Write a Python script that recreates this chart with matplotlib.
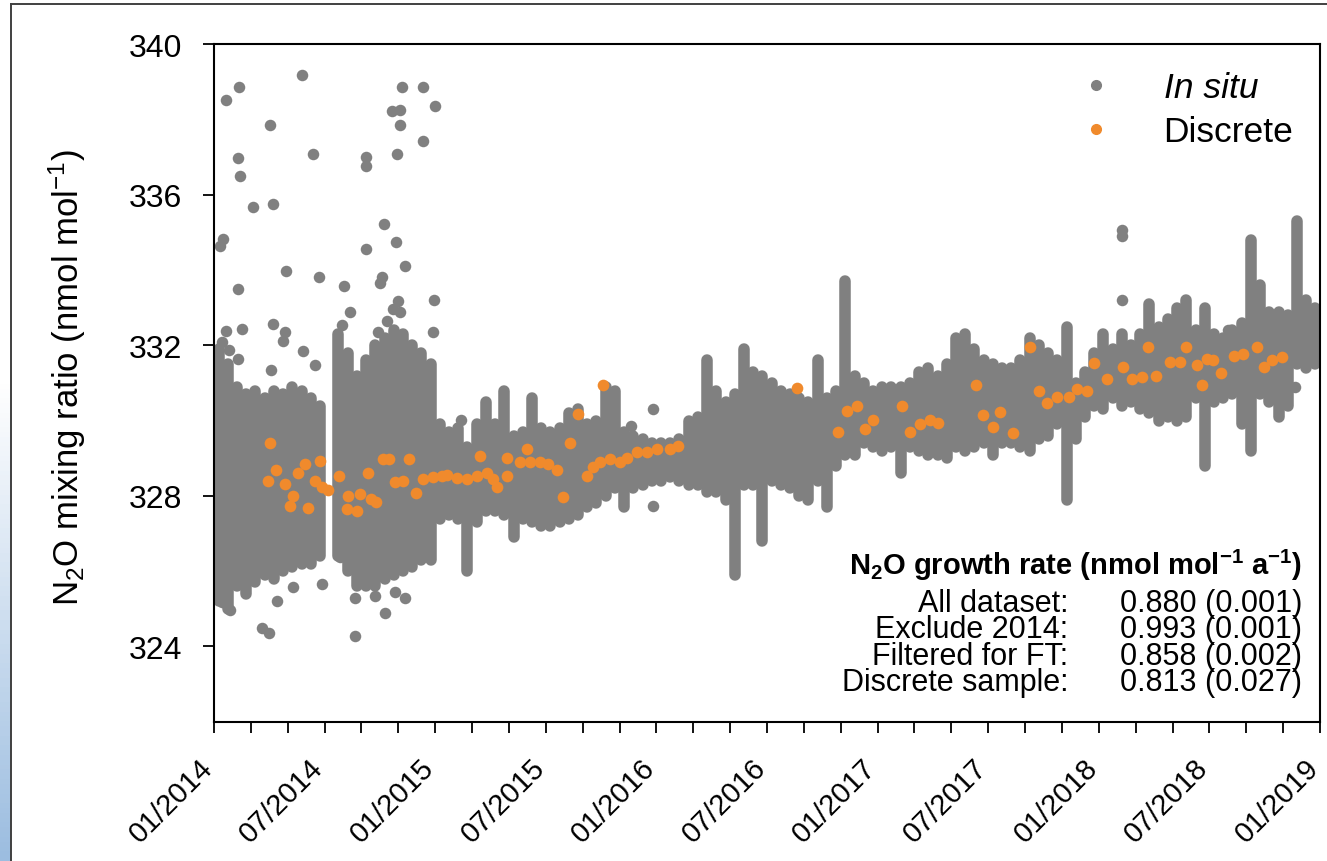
import numpy as np
import matplotlib
matplotlib.use("Agg")
import matplotlib.pyplot as plt
from matplotlib.lines import Line2D
from matplotlib.colors import LinearSegmentedColormap

plt.rcParams["font.family"] = ["Liberation Sans", "DejaVu Sans"]
plt.rcParams["mathtext.fontset"] = "custom"
plt.rcParams["mathtext.rm"] = "Liberation Sans"
plt.rcParams["mathtext.it"] = "Liberation Sans:italic"
plt.rcParams["mathtext.bf"] = "Liberation Sans:bold"

GRAY = "#808080"
ORANGE = "#f08a2c"

# in situ record, summarised as min/max per half-month bin starting 01/2014
BIN_START = 2014.0
BIN_WIDTH = 1 / 24
insitu_lo = [
    325.2, 325.0, 325.6, 325.4, 325.7, 325.9, 325.8, 326.0, 326.1, 326.2, 326.2, 326.4,
    np.nan, 326.4, 326.0, 325.6, 325.6, 325.6, 325.8, 325.9, 326.0, 326.1, 326.3, 326.3,
    327.4, 327.5, 327.4, 326.0, 327.3, 327.6, 327.6, 327.5, 326.9, 327.4, 327.3, 327.2,
    327.2, 327.3, 327.4, 327.5, 327.7, 327.8, 328.0, 328.2, 327.7, 328.2, 328.3, 328.4,
    328.4, 328.5, 328.4, 328.3, 328.3, 328.1, 328.1, 327.9, 325.9, 328.3, 328.3, 326.8,
    328.4, 328.3, 328.2, 328.0, 327.9, 328.4, 327.7, 328.8, 329.1, 329.1, 329.4, 329.3,
    329.2, 329.3, 328.6, 329.3, 329.2, 329.1, 329.1, 329.0, 329.3, 329.2, 329.3, 329.4,
    329.1, 329.4, 329.4, 329.3, 329.2, 329.5, 329.6, 329.9, 327.9, 329.5, 330.1, 330.4,
    330.3, 330.6, 330.4, 330.5, 330.3, 330.2, 330.0, 330.1, 330.0, 330.1, 330.6, 328.8,
    330.5, 330.6, 330.7, 329.9, 329.2, 330.7, 330.5, 330.1, 330.4, 331.5, 331.4, 331.5,
]
insitu_hi = [
    331.9, 331.5, 330.9, 330.7, 330.8, 330.6, 330.8, 330.7, 330.9, 330.8, 330.6, 330.4,
    np.nan, 332.3, 331.8, 331.2, 331.6, 332.0, 332.2, 332.4, 332.3, 332.0, 331.8, 331.5,
    329.9, 329.7, 329.8, 329.3, 329.9, 330.5, 329.9, 330.8, 329.6, 329.7, 330.6, 329.8,
    329.7, 329.8, 330.2, 330.3, 329.9, 330.0, 330.9, 330.8, 329.7, 329.6, 329.5, 329.4,
    329.4, 329.4, 329.5, 330.0, 330.1, 331.6, 330.8, 330.5, 330.7, 331.9, 331.3, 331.2,
    331.0, 330.8, 330.7, 330.6, 330.5, 331.6, 330.6, 330.8, 333.7, 331.2, 331.0, 330.8,
    330.9, 330.9, 330.9, 331.0, 331.3, 331.4, 331.2, 331.5, 332.2, 332.3, 331.9, 331.6,
    331.5, 331.4, 331.4, 331.6, 332.2, 332.0, 331.8, 331.6, 332.5, 331.0, 331.3, 331.8,
    332.3, 331.9, 332.3, 332.0, 332.3, 333.1, 332.5, 332.7, 333.0, 333.2, 332.4, 333.0,
    332.3, 332.2, 332.4, 332.6, 334.8, 333.6, 332.9, 332.9, 332.8, 335.3, 333.2, 333.0,
]

# isolated in situ readings outside the dense band
outlier_t = [
    2014.054, 2014.113, 2014.398, 2014.850, 2014.945, 2014.999, 2014.253, 2014.805,
    2014.841, 2014.841, 2014.945, 2014.827, 2014.448, 2014.687, 2014.687, 2014.109,
    2014.118, 2014.176, 2014.267, 2014.041, 2014.027, 2014.769, 2014.823, 2014.687,
    2014.863, 2014.325, 2014.475, 2014.588, 2014.760, 2014.750, 2014.109, 2014.995,
    2014.615, 2014.832, 2014.809, 2014.841, 2014.782, 2014.267, 2014.127, 2014.321,
    2014.312, 2014.402, 2014.457, 2014.258, 2014.054, 2014.036, 2014.068, 2014.579,
    2014.990, 2014.741, 2014.109, 2014.014,
    2014.217, 2014.249, 2014.637, 2014.036, 2014.072, 2014.285, 2014.357, 2014.488,
    2014.773, 2014.863, 2014.818, 2014.728, 2014.637, 2014.570,
    2015.117, 2015.985, 2015.985, 2015.885, 2018.105, 2018.105, 2018.105, 2018.584,
    2018.887,
]
outlier_v = [
    338.51, 338.88, 339.20, 338.86, 338.86, 338.35, 337.87, 338.22,
    338.25, 337.85, 337.42, 337.10, 337.10, 337.02, 336.78, 336.97,
    336.49, 335.67, 335.77, 334.84, 334.63, 335.24, 334.76, 334.55,
    334.10, 333.97, 333.83, 333.57, 333.81, 333.67, 333.49, 333.22,
    332.88, 333.17, 332.96, 332.90, 332.66, 332.58, 332.43, 332.35,
    332.11, 331.84, 331.47, 331.34, 332.37, 332.08, 331.89, 332.55,
    332.35, 332.35, 331.63, 331.36,
    324.50, 324.35, 324.29, 325.17, 324.98, 325.20, 325.59, 325.67,
    324.90, 325.30, 325.44, 325.33, 325.30, 326.39,
    330.03, 330.30, 327.72, 329.85, 335.08, 334.90, 333.22, 332.40,
    330.90,
]

# discrete flask samples
discrete_t = [
    2014.253, 2014.280, 2014.244, 2014.321, 2014.357, 2014.344, 2014.425, 2014.380,
    2014.411, 2014.479, 2014.457, 2014.488, 2014.515, 2014.565, 2014.606, 2014.601,
    2014.646, 2014.660, 2014.696, 2014.710, 2014.732, 2014.764, 2014.791, 2014.882,
    2014.818, 2014.854, 2014.913, 2014.945, 2014.990,
    2015.031, 2015.053, 2015.099, 2015.144, 2015.189, 2015.203, 2015.234, 2015.261,
    2015.279, 2015.325, 2015.325, 2015.383, 2015.415, 2015.429, 2015.474, 2015.510,
    2015.551, 2015.578, 2015.609, 2015.646, 2015.686, 2015.713, 2015.745, 2015.759,
    2015.790, 2015.835, 2015.867, 2015.912, 2015.957, 2016.003, 2016.061, 2016.098,
    2016.636, 2016.821, 2016.862, 2016.907, 2016.943, 2016.979,
    2017.110, 2017.146, 2017.192, 2017.237, 2017.273, 2017.445, 2017.477, 2017.522,
    2017.553, 2017.612, 2017.689, 2017.730, 2017.766, 2017.811, 2017.865, 2017.902,
    2017.947, 2017.978,
    2018.037, 2018.109, 2018.150, 2018.195, 2018.222, 2018.259, 2018.322, 2018.367,
    2018.394, 2018.444, 2018.467, 2018.489, 2018.516, 2018.552, 2018.611, 2018.652,
    2018.715, 2018.747, 2018.783, 2018.828,
]
discrete_v = [
    329.40, 328.70, 328.39, 328.31, 328.01, 327.72, 327.69, 328.62,
    328.84, 328.92, 328.39, 328.23, 328.17, 328.52, 327.99, 327.64,
    327.59, 328.04, 328.62, 327.91, 327.83, 328.97, 328.97, 328.97,
    328.36, 328.39, 328.09, 328.44, 328.49,
    328.52, 328.55, 328.47, 328.44, 328.52, 329.05, 328.62, 328.44,
    328.23, 329.02, 328.52, 328.89, 329.24, 328.89, 328.89, 328.84,
    328.70, 327.96, 329.42, 330.17, 328.52, 328.78, 328.89, 330.96,
    328.97, 328.89, 329.02, 329.16, 329.18, 329.24, 329.24, 329.32,
    330.88, 329.69, 330.25, 330.38, 329.77, 330.03,
    330.38, 329.71, 329.90, 330.01, 329.95, 330.96, 330.14, 329.82,
    330.22, 329.66, 331.95, 330.78, 330.46, 330.62, 330.64, 330.83,
    330.78, 331.52,
    331.12, 331.42, 331.10, 331.15, 331.97, 331.18, 331.55, 331.55,
    331.97, 331.47, 330.96, 331.63, 331.60, 331.26, 331.71, 331.76,
    331.95, 331.42, 331.60, 331.68,
]

x_tick_labels = ["01/2014", "07/2014", "01/2015", "07/2015", "01/2016", "07/2016",
                 "01/2017", "07/2017", "01/2018", "07/2018", "01/2019"]
y_ticks = [324, 328, 332, 336, 340]

rate_labels = ["All dataset:", "Exclude 2014:", "Filtered for FT:", "Discrete sample:"]
rate_values = ["0.880 (0.001)", "0.993 (0.001)", "0.858 (0.002)", "0.813 (0.027)"]

W, H = 1327, 862
fig = plt.figure(figsize=(W / 100, H / 100), dpi=100)

# slide decoration: thin frame and blue strip on the left
strip = fig.add_axes([0, 0, 11 / W, 1 - 380 / H])
strip.imshow(np.linspace(0, 1, 100)[:, None], aspect="auto",
             cmap=LinearSegmentedColormap.from_list("s", ["#ffffff", "#9cbde0"]))
strip.axis("off")
fig.add_artist(Line2D([11 / W, 11 / W], [0, 1 - 5 / H], color="#404040", lw=1.4))
fig.add_artist(Line2D([11 / W, 1], [1 - 5 / H, 1 - 5 / H], color="#404040", lw=1.4))

ax = fig.add_axes([214 / W, 1 - 722.7 / H, 1106 / W, 677.3 / H])

lo = np.array(insitu_lo, dtype=float)
hi = np.array(insitu_hi, dtype=float)
t_bins = BIN_START + (np.arange(len(lo)) + 0.5) * BIN_WIDTH
ok = ~np.isnan(lo)
band = ax.vlines(t_bins[ok], lo[ok], hi[ok], colors=GRAY, linewidth=8.3)
band.set_capstyle("round")
ax.scatter(outlier_t, outlier_v, s=8.3 ** 2, color=GRAY, linewidths=0)
ax.scatter(discrete_t, discrete_v, s=8.4 ** 2, color=ORANGE, linewidths=0, zorder=3)

ax.set_xlim(2014, 2019)
ax.set_ylim(322, 340)
ax.set_xticks(np.arange(len(x_tick_labels)) * 0.5 + 2014)
ax.set_xticklabels(x_tick_labels, rotation=45, ha="right", va="baseline",
                   rotation_mode="anchor", fontsize=21)
ax.set_xticks(np.arange(0, 31) / 6 + 2014, minor=True)
ax.set_yticks(y_ticks)
ax.set_yticklabels([str(v) for v in y_ticks], fontsize=23)
ax.tick_params(axis="both", which="both", direction="out", length=8, width=1.3, colors="black")
ax.tick_params(axis="x", which="major", pad=26)
ax.tick_params(axis="y", pad=15)
for s in ax.spines.values():
    s.set_linewidth(1.5)

ax.set_ylabel("N$_2$O mixing ratio (nmol mol$^{-1}$)", fontsize=25)
ax.yaxis.set_label_coords(-0.114, 0.509)

handles = [
    Line2D([], [], marker="o", ls="", color=GRAY, markersize=7),
    Line2D([], [], marker="o", ls="", color=ORANGE, markersize=7),
]
leg = ax.legend(handles, ["In situ", "Discrete"], loc="upper right", bbox_to_anchor=(0.976, 0.96),
                frameon=False, fontsize=25.5, handlelength=0.8, handletextpad=1.5,
                labelspacing=0.3, borderaxespad=0, borderpad=0)
leg.get_texts()[0].set_fontstyle("italic")

ax.text(0.9837, 0.2181, r"N$_\mathbf{2}$O growth rate (nmol mol$^{\mathbf{-1}}$ a$^{\mathbf{-1}}$)",
        transform=ax.transAxes, ha="right", va="baseline", fontsize=21, fontweight="bold")
row_y = [0.1634, 0.1251, 0.0852, 0.0468]
for lab, val, y in zip(rate_labels, rate_values, row_y):
    ax.text(0.7722, y, lab, transform=ax.transAxes, ha="right", va="baseline", fontsize=22)
    ax.text(0.9837, y, val, transform=ax.transAxes, ha="right", va="baseline", fontsize=22)

fig.savefig("out.png", dpi=100)
